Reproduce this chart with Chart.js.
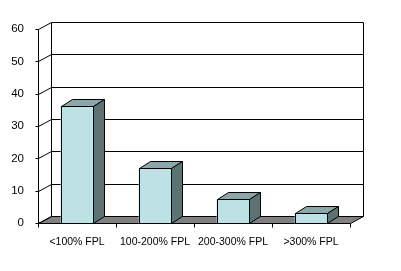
<!DOCTYPE html>
<html>
<head>
<meta charset="utf-8">
<script src="https://cdn.jsdelivr.net/npm/chart.js@4/dist/chart.umd.min.js"></script>
<style>
    html, body { margin: 0; padding: 0; background: #fff; }
    #wrap { width: 401px; height: 271px; }
</style>
</head>
<body>
<div id="wrap"><canvas id="chart" width="401" height="271"></canvas></div>
<script>
// ===== DATA =====
const categories = ['<100% FPL', '100-200% FPL', '200-300% FPL', '>300% FPL'];
const values = [36.2, 16.9, 7.3, 3.0];
const yTicks = [0, 10, 20, 30, 40, 50, 60];

// 3D depth offsets
const WALL_DX = 13, WALL_DY = -7;
const BAR_DX = 11, BAR_DY = -7;

const px = v => Math.round(v) + 0.5;

function line(ctx, x1, y1, x2, y2) {
    ctx.beginPath();
    ctx.moveTo(x1, y1);
    ctx.lineTo(x2, y2);
    ctx.stroke();
}

// back wall, floor and axes
const wallsPlugin = {
    id: 'walls',
    beforeDatasetsDraw(chart) {
        const ctx = chart.ctx;
        const y = chart.scales.y;
        const x = chart.scales.x;
        const left = px(x.left), right = px(x.right);
        const y0 = px(y.getPixelForValue(0));
        const yTop = px(y.getPixelForValue(60));

        ctx.save();
        ctx.strokeStyle = '#000';
        ctx.lineWidth = 1;

        // floor
        ctx.fillStyle = '#808080';
        ctx.beginPath();
        ctx.moveTo(left, y0);
        ctx.lineTo(right, y0);
        ctx.lineTo(right + WALL_DX, y0 + WALL_DY);
        ctx.lineTo(left + WALL_DX, y0 + WALL_DY);
        ctx.closePath();
        ctx.fill();
        ctx.stroke();

        // grid lines on back wall and left wall
        yTicks.forEach(v => {
            const yy = px(y.getPixelForValue(v));
            line(ctx, left + WALL_DX, yy + WALL_DY, right + WALL_DX, yy + WALL_DY);
            line(ctx, left, yy, left + WALL_DX, yy + WALL_DY);
            line(ctx, left - 3, yy, left, yy); // tick mark
        });

        // back wall verticals
        line(ctx, left + WALL_DX, yTop + WALL_DY, left + WALL_DX, y0 + WALL_DY);
        line(ctx, right + WALL_DX, yTop + WALL_DY, right + WALL_DX, y0 + WALL_DY);

        // front y axis
        line(ctx, left, yTop, left, y0);

        // front x axis with category ticks
        line(ctx, left, y0, right, y0);
        const step = (x.right - x.left) / categories.length;
        for (let i = 0; i <= categories.length; i++) {
            const xx = px(x.left + step * i);
            line(ctx, xx, y0, xx, y0 + 4);
        }
        ctx.restore();
    }
};

// top and side faces of the columns
const columnsPlugin = {
    id: 'columns3d',
    afterDatasetsDraw(chart) {
        const ctx = chart.ctx;
        const meta = chart.getDatasetMeta(0);
        ctx.save();
        ctx.strokeStyle = '#000';
        ctx.lineWidth = 1;
        meta.data.forEach(bar => {
            const p = bar.getProps(['x', 'y', 'base', 'width'], true);
            const l = px(p.x - p.width / 2), r = px(p.x + p.width / 2);
            const t = px(p.y), b = px(p.base);

            // top face
            ctx.fillStyle = '#8ca7aa';
            ctx.beginPath();
            ctx.moveTo(l, t);
            ctx.lineTo(l + BAR_DX, t + BAR_DY);
            ctx.lineTo(r + BAR_DX, t + BAR_DY);
            ctx.lineTo(r, t);
            ctx.closePath();
            ctx.fill();
            ctx.stroke();

            // side face
            ctx.fillStyle = '#5e7274';
            ctx.beginPath();
            ctx.moveTo(r, t);
            ctx.lineTo(r + BAR_DX, t + BAR_DY);
            ctx.lineTo(r + BAR_DX, b + BAR_DY);
            ctx.lineTo(r, b);
            ctx.closePath();
            ctx.fill();
            ctx.stroke();

            // front face outline
            ctx.strokeRect(l, t, r - l, b - t);
        });
        ctx.restore();
    }
};

new Chart(document.getElementById('chart'), {
    type: 'bar',
    data: {
        labels: categories,
        datasets: [{
            data: values,
            backgroundColor: '#bde1e4',
            borderWidth: 0,
            barPercentage: 0.42,
            categoryPercentage: 1
        }]
    },
    options: {
        responsive: false,
        animation: false,
        events: [],
        layout: { padding: { top: 29, right: 51, bottom: 0, left: 0 } },
        plugins: {
            legend: { display: false },
            tooltip: { enabled: false }
        },
        scales: {
            x: {
                grid: { display: false },
                border: { display: false },
                ticks: {
                    color: '#000',
                    padding: 5,
                    maxRotation: 0,
                    font: { family: 'Liberation Sans', size: 10.5 }
                },
                afterFit(scale) { scale.height = 48; }
            },
            y: {
                min: 0,
                max: 60,
                grid: { display: false },
                border: { display: false },
                ticks: {
                    stepSize: 10,
                    color: '#000',
                    padding: 6,
                    font: { family: 'Liberation Sans', size: 11.5 }
                },
                afterFit(scale) { scale.width = 38; }
            }
        }
    },
    plugins: [wallsPlugin, columnsPlugin]
});
</script>
</body>
</html>
